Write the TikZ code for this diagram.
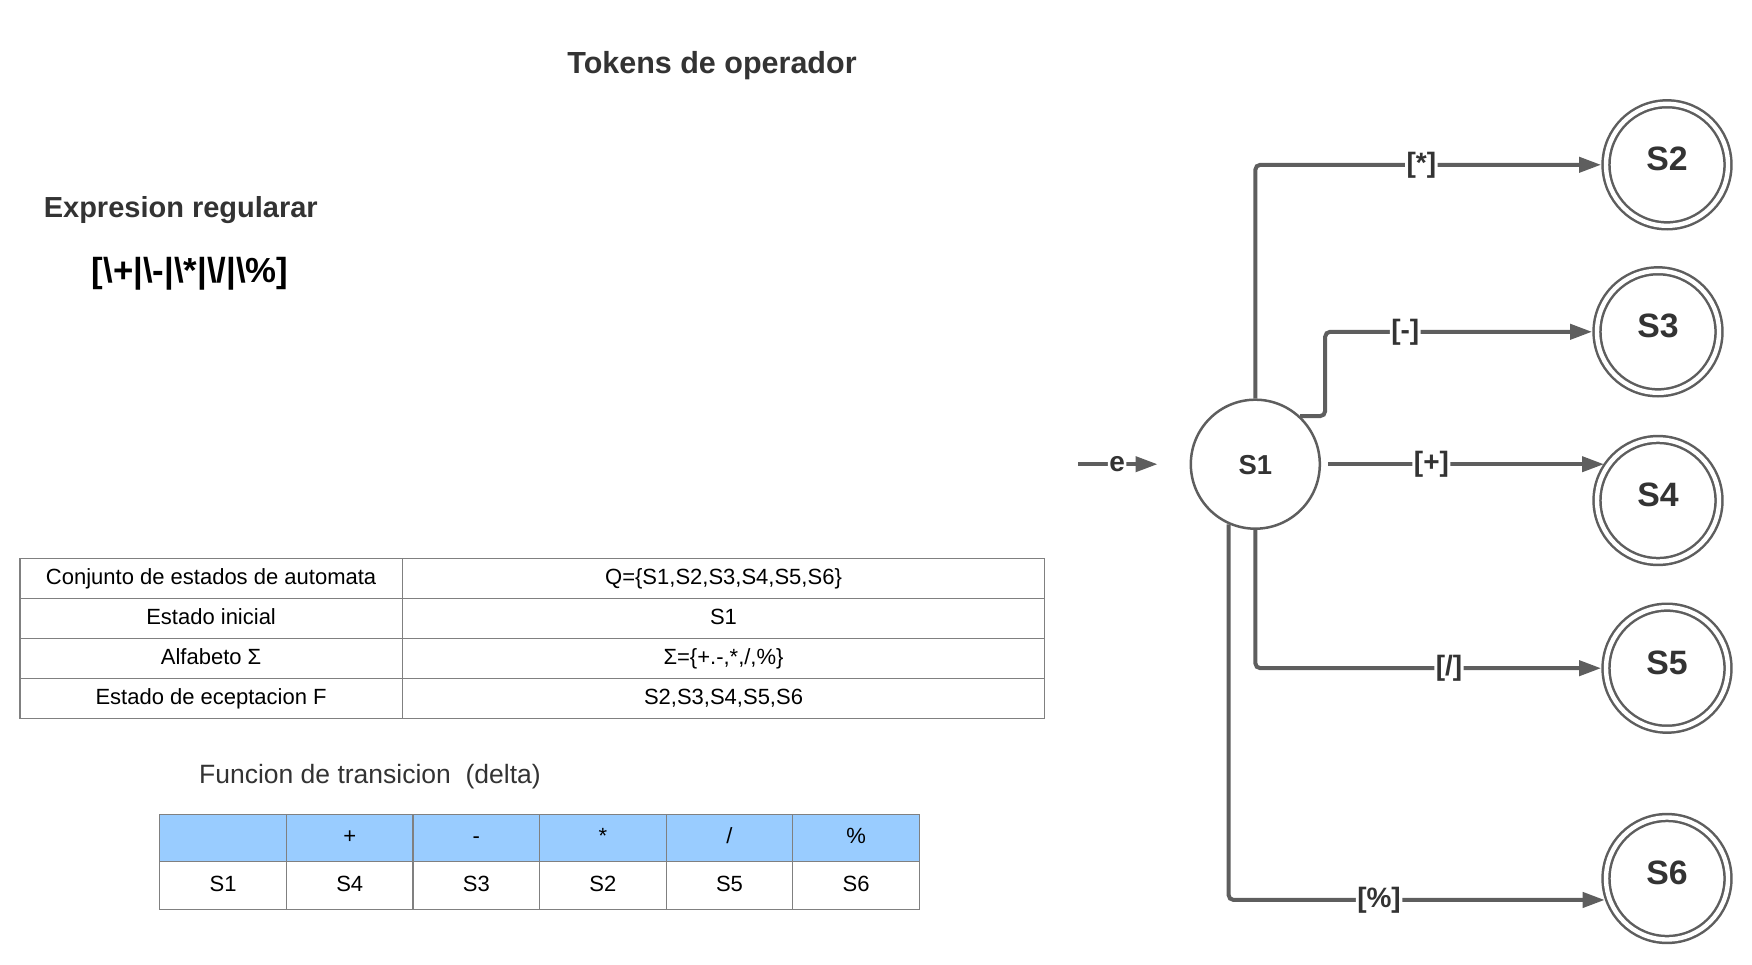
\documentclass[tikz,border=0pt]{standalone}
\usepackage{fontspec}
\setmainfont{Liberation Sans}
\usetikzlibrary{positioning,arrows.meta}

\definecolor{linegray}{HTML}{5E5E5E}
\definecolor{textgray}{HTML}{333333}
\definecolor{gridgray}{HTML}{808080}
\definecolor{headblue}{HTML}{99CCFF}

\newcommand{\fsz}[1]{\fontsize{#1}{#1}\selectfont}

\begin{document}
\begin{tikzpicture}[x=1pt,y=-1pt,
    estado/.style={circle, draw=linegray, line width=2.5pt, inner sep=0pt, minimum size=129pt,
        text=textgray, font=\fsz{27.4}\bfseries, text height=19.6pt, text depth=0pt},
    final/.style={estado, double=white, double distance=4.4pt, minimum size=122pt, outer sep=4.9pt,
        font=\fsz{33.8}\bfseries, text height=24.2pt, text depth=12pt},
    trans/.style={draw=linegray, line width=4pt, rounded corners=5pt, -{Triangle[length=22pt,width=15pt]}},
    lbl/.style={fill=white, inner sep=1.5pt, text=textgray, font=\fsz{28}\bfseries},
    cell/.style={inner sep=0pt, font=\fsz{22}, text height=16pt, text depth=4.5pt},
    tabline/.style={draw=gridgray, line width=1.3pt}]
        \useasboundingbox (0,0) rectangle (1752,965);

        % titles
        \node (titulo) at (712,65.5) [text=textgray, font=\fsz{30.5}\bfseries] {Tokens de operador};
        \node (expr) at (43.6,210) [anchor=west, inner sep=0pt, text=textgray, font=\fsz{29}\bfseries] {Expresion regularar};
        \node (regex) at (91.6,274) [anchor=west, inner sep=0pt, font=\fsz{34.8}\bfseries]
            {[\textbackslash+|\textbackslash-|\textbackslash*|\textbackslash/|\textbackslash\%]};

        % automata table
        \draw[tabline] (20,558.7) rectangle (1044.7,718.4);
        \foreach \y in {598.6,638.5,678.5}
            \draw[tabline] (20,\y) -- (1044.7,\y);
        \draw[tabline] (402.2,558.7) -- (402.2,718.4);
        \node[cell] (conj) at (211.1,578.6) {Conjunto de estados de automata};
        \node[cell] (conjv) at (723.5,578.6) {Q=\{S1,S2,S3,S4,S5,S6\}};
        \node[cell] (ini) at (211.1,618.6) {Estado inicial};
        \node[cell] (iniv) at (723.5,618.6) {S1};
        \node[cell] (alf) at (211.1,658.5) {Alfabeto Σ};
        \node[cell] (alfv) at (723.5,658.5) {Σ=\{+.-,*,/,\%\}};
        \node[cell] (acep) at (211.1,698.5) {Estado de eceptacion F};
        \node[cell] (acepv) at (723.5,698.5) {S2,S3,S4,S5,S6};

        % transition table
        \node (delta) at (198.9,776.5) [anchor=west, inner sep=0pt, text=textgray, font=\fsz{26.5}] {Funcion de transicion\ \ (delta)};
        \fill[headblue] (159.8,814.5) rectangle (919.5,861.4);
        \draw[tabline] (159.8,814.5) rectangle (919.5,909.5);
        \draw[tabline] (159.8,861.4) -- (919.5,861.4);
        \foreach \k in {1,...,5}
            \draw[tabline] (159.8+126.6*\k,814.5) -- (159.8+126.6*\k,909.5);
        \foreach \s [count=\k] in {+,-,*,/,\%}
            \node[cell] (op\k) at (223.1+126.6*\k,838) {\s};
        \foreach \s [count=\k from 0] in {S1,S4,S3,S2,S5,S6}
            \node[cell] (d\k) at (223.1+126.6*\k,885.5) {\s};

        % automaton
        \node[estado] (s1) at (1255.3,464.2) {S1};
        \node[final] (s2) at (1667,164.8) {S2};
        \node[final] (s3) at (1658,331.8) {S3};
        \node[final] (s4) at (1658,500.5) {S4};
        \node[final] (s5) at (1667,668.2) {S5};
        \node[final] (s6) at (1667,878.5) {S6};
        \coordinate (inicio) at (1078,464.2);

        \draw[trans, shorten >=32pt] (inicio) -- (s1.west) node[lbl, pos=0.35] {e};
        \draw[trans] (s1.north) |- (s2.west) node[lbl, pos=0.74] {[*]};
        \draw[trans] (s1.47) -- ++(25,0) |- (s3.west) node[lbl, pos=0.65] {[-]};
        \draw[trans, shorten <=7pt] (s1.east) -- (s4.145 |- s1.east) node[lbl, pos=0.39] {[+]};
        \draw[trans] (s1.south) |- (s5.west) node[lbl, pos=0.78] {[/]};
        \draw[trans] (s1.246) |- (s6.199) node[lbl, pos=0.70] {[\%]};
    \end{tikzpicture}
\end{document}
